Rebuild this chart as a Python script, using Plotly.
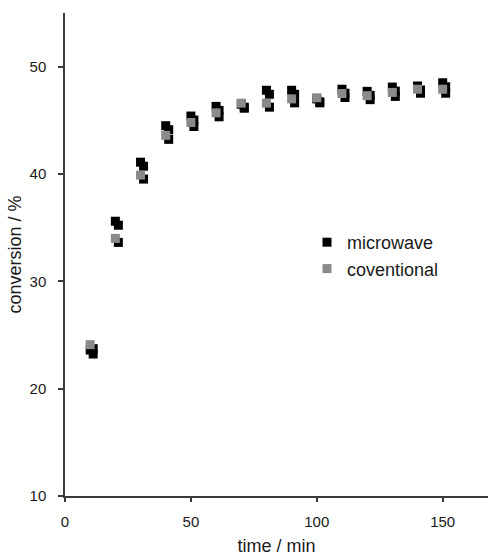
import plotly.graph_objects as go

# ---- data ----
time_min = [10, 20, 30, 40, 50, 60, 70, 80, 90, 100, 110, 120, 130, 140, 150]
microwave = [23.6, 35.6, 41.1, 44.5, 45.4, 46.3, 46.5, 47.8, 47.8, 47.0, 47.9, 47.7, 48.1, 48.2, 48.5]
conventional = [24.1, 34.0, 39.9, 43.6, 44.8, 45.7, 46.6, 46.6, 47.0, 47.1, 47.5, 47.3, 47.6, 47.9, 47.9]
x_ticks = [0, 50, 100, 150]
y_ticks = [10, 20, 30, 40, 50]

# ---- layout geometry ----
W_PX, H_PX = 488, 556
ML, MR, MT, MB = 65, 0, 13, 60
PW = W_PX - ML - MR
PH = H_PX - MT - MB
X_MAX = 168
Y_MIN, Y_MAX = 10, 55
SHADOW_DX, SHADOW_DY = 3, 4          # drop-shadow offset in pixels
dx = SHADOW_DX / PW
dy = SHADOW_DY / PH

FONT = "Liberation Sans, Arial, sans-serif"
TXT = "#1a1a1a"
AX = "#3a3a3a"
BLACK = "#000000"
GRAY = "#8a8a8a"
MSIZE = 9

fig = go.Figure()

# drop shadows (same data, drawn on a subplot shifted a few pixels right/down)
for vals in (microwave, conventional):
    fig.add_trace(go.Scatter(
        x=time_min, y=vals, mode="markers",
        marker=dict(symbol="square", size=MSIZE, color=BLACK, line=dict(width=0)),
        showlegend=False, hoverinfo="skip", xaxis="x", yaxis="y"))

# main markers
fig.add_trace(go.Scatter(
    x=time_min, y=microwave, mode="markers", name="microwave", legendgroup="a",
    marker=dict(symbol="square", size=MSIZE, color=BLACK, line=dict(width=0)),
    xaxis="x2", yaxis="y2"))
fig.add_trace(go.Scatter(
    x=time_min, y=conventional, mode="markers", name="coventional", legendgroup="b",
    marker=dict(symbol="square", size=MSIZE, color=GRAY, line=dict(width=0)),
    xaxis="x2", yaxis="y2"))

fig.update_layout(
    width=W_PX, height=H_PX,
    margin=dict(l=ML, r=MR, t=MT, b=MB, pad=0, autoexpand=False),
    paper_bgcolor="white", plot_bgcolor="rgba(0,0,0,0)",
    font=dict(family=FONT, color=TXT, size=15),
    xaxis=dict(domain=[dx, 1], range=[0, X_MAX * (1 - dx)], visible=False,
               fixedrange=True, automargin=False),
    yaxis=dict(domain=[0, 1 - dy], range=[Y_MIN + (Y_MAX - Y_MIN) * dy, Y_MAX],
               visible=False, fixedrange=True, anchor="x", automargin=False),
    xaxis2=dict(domain=[0, 1], anchor="y2", range=[0, X_MAX], automargin=False,
                tickmode="array", tickvals=x_ticks, ticktext=[str(v) for v in x_ticks],
                ticks="outside", ticklen=4, tickwidth=1.5, tickcolor=AX,
                showline=True, linecolor=AX, linewidth=1.5,
                showgrid=False, zeroline=False, ticklabelstandoff=7,
                tickfont=dict(size=15, color=TXT),
                title=dict(text="time / min", font=dict(size=18, color=TXT), standoff=12)),
    yaxis2=dict(domain=[0, 1], anchor="x2", range=[Y_MIN, Y_MAX], automargin=False,
                tickmode="array", tickvals=y_ticks, ticktext=[str(v) for v in y_ticks],
                ticks="outside", ticklen=5, tickwidth=1.5, tickcolor=AX,
                showline=True, linecolor=AX, linewidth=1.5,
                showgrid=False, zeroline=False, ticklabelstandoff=9,
                tickfont=dict(size=15, color=TXT),
                title=dict(text="conversion / %", font=dict(size=18, color=TXT), standoff=3)),
    legend=dict(x=(307 - ML) / PW, y=(MT + PH - 224) / PH, xanchor="left", yanchor="top",
                bgcolor="rgba(0,0,0,0)", font=dict(size=18, color=TXT),
                traceorder="grouped", tracegroupgap=0, itemclick=False),
    showlegend=True,
)

fig.write_html("out.html", config={"displayModeBar": False},
               post_script="document.body.style.margin='0';document.body.style.overflow='hidden';")
